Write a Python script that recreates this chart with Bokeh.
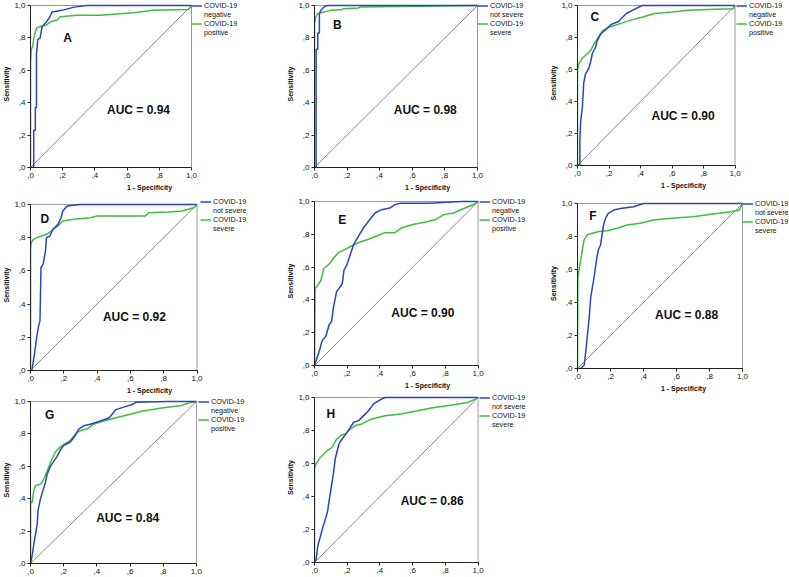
from bokeh.plotting import figure
from bokeh.layouts import row, column
from bokeh.models import Legend, LegendItem, Label, FixedTicker
from bokeh.embed import file_html
from bokeh.resources import INLINE

BLUE = "#2e42c4"
GREEN = "#3cbf3c"
FONT = "Liberation Sans"

ticks = [0, 0.2, 0.4, 0.6, 0.8, 1]
tick_labels = [",0", ",2", ",4", ",6", ",8", "1,0"]
diag = [0, 1]
box_lo, box_hi = [0], [1]

# ---------------- data (1 - specificity, sensitivity) ----------------
A_blue_x = [0, 0.02, 0.02, 0.03, 0.03, 0.037, 0.037, 0.045, 0.06, 0.072, 0.10, 0.12, 0.134, 0.196, 0.27, 0.35, 1.0]
A_blue_y = [0, 0.0, 0.23, 0.23, 0.37, 0.37, 0.70, 0.79, 0.80, 0.87, 0.90, 0.93, 0.96, 0.97, 0.99, 1.0, 1.0]
A_green_x = [0, 0.0, 0.005, 0.015, 0.02, 0.026, 0.037, 0.06, 0.10, 0.124, 0.165, 0.185, 0.29, 0.43, 0.64, 0.76, 0.98, 1.0]
A_green_y = [0, 0.65, 0.73, 0.75, 0.80, 0.82, 0.86, 0.87, 0.88, 0.90, 0.91, 0.93, 0.94, 0.94, 0.955, 0.97, 0.975, 1.0]

B_blue_x = [0, 0.01, 0.01, 0.02, 0.02, 0.03, 0.03, 0.04, 0.057, 0.08, 1.0]
B_blue_y = [0, 0.0, 0.73, 0.73, 0.83, 0.83, 0.95, 0.97, 0.99, 1.0, 1.0]
B_green_x = [0, 0.0, 0.008, 0.02, 0.057, 0.10, 0.17, 0.175, 0.27, 0.28, 1.0]
B_green_y = [0, 0.89, 0.93, 0.95, 0.96, 0.97, 0.975, 0.98, 0.985, 0.99, 1.0]

C_blue_x = [0, 0.015, 0.015, 0.02, 0.03, 0.04, 0.05, 0.073, 0.084, 0.094, 0.115, 0.125, 0.146, 0.18, 0.21, 0.26, 0.28, 0.31, 0.37, 0.41, 1.0]
C_blue_y = [0, 0.0, 0.15, 0.28, 0.35, 0.52, 0.57, 0.61, 0.65, 0.70, 0.74, 0.78, 0.82, 0.85, 0.88, 0.90, 0.92, 0.95, 0.98, 1.0, 1.0]
C_green_x = [0, 0.0, 0.01, 0.03, 0.063, 0.084, 0.105, 0.125, 0.157, 0.19, 0.22, 0.28, 0.345, 0.42, 0.49, 0.60, 0.70, 0.83, 0.99, 1.0]
C_green_y = [0, 0.60, 0.64, 0.67, 0.70, 0.72, 0.76, 0.79, 0.84, 0.86, 0.87, 0.89, 0.91, 0.93, 0.95, 0.96, 0.97, 0.975, 0.98, 1.0]

D_blue_x = [0, 0.008, 0.024, 0.037, 0.047, 0.057, 0.063, 0.076, 0.09, 0.096, 0.116, 0.135, 0.165, 0.184, 0.194, 0.22, 0.30, 1.0]
D_blue_y = [0, 0.0, 0.10, 0.20, 0.26, 0.30, 0.62, 0.64, 0.72, 0.80, 0.81, 0.85, 0.88, 0.92, 0.96, 0.99, 1.0, 1.0]
D_green_x = [0, 0.0, 0.004, 0.018, 0.037, 0.067, 0.096, 0.125, 0.165, 0.194, 0.26, 0.36, 0.40, 0.69, 0.71, 0.83, 0.91, 0.98, 1.0]
D_green_y = [0, 0.73, 0.77, 0.79, 0.80, 0.81, 0.82, 0.84, 0.87, 0.90, 0.91, 0.92, 0.93, 0.93, 0.95, 0.955, 0.96, 0.98, 1.0]

E_blue_x = [0, 0.01, 0.03, 0.046, 0.07, 0.09, 0.105, 0.115, 0.135, 0.15, 0.17, 0.18, 0.20, 0.22, 0.24, 0.27, 0.30, 0.33, 0.37, 0.41, 0.46, 0.49, 0.525, 0.70, 0.90, 1.0]
E_blue_y = [0, 0.03, 0.09, 0.15, 0.18, 0.25, 0.27, 0.35, 0.45, 0.47, 0.50, 0.58, 0.62, 0.68, 0.74, 0.79, 0.84, 0.88, 0.93, 0.95, 0.96, 0.98, 0.99, 0.99, 1.0, 1.0]
E_green_x = [0, 0.004, 0.02, 0.04, 0.055, 0.08, 0.10, 0.12, 0.15, 0.19, 0.23, 0.27, 0.33, 0.38, 0.43, 0.49, 0.535, 0.60, 0.68, 0.74, 0.79, 0.85, 0.92, 0.98, 1.0]
E_green_y = [0, 0.47, 0.49, 0.52, 0.59, 0.61, 0.63, 0.66, 0.69, 0.71, 0.73, 0.75, 0.77, 0.79, 0.81, 0.81, 0.84, 0.86, 0.875, 0.89, 0.92, 0.93, 0.96, 0.985, 1.0]

F_blue_x = [0, 0.02, 0.04, 0.05, 0.06, 0.07, 0.08, 0.09, 0.10, 0.117, 0.127, 0.14, 0.158, 0.17, 0.186, 0.22, 0.26, 0.34, 0.40, 1.0]
F_blue_y = [0, 0.0, 0.02, 0.10, 0.20, 0.30, 0.43, 0.49, 0.55, 0.67, 0.72, 0.75, 0.87, 0.91, 0.94, 0.96, 0.97, 0.98, 1.0, 1.0]
F_green_x = [0, 0.002, 0.01, 0.026, 0.04, 0.057, 0.09, 0.13, 0.18, 0.24, 0.30, 0.38, 0.46, 0.57, 0.70, 0.81, 0.93, 0.98, 1.0]
F_green_y = [0, 0.55, 0.60, 0.70, 0.78, 0.81, 0.82, 0.83, 0.835, 0.85, 0.87, 0.88, 0.90, 0.91, 0.92, 0.935, 0.95, 0.96, 1.0]

G_blue_x = [0, 0.01, 0.02, 0.03, 0.04, 0.046, 0.06, 0.075, 0.09, 0.10, 0.12, 0.14, 0.16, 0.18, 0.20, 0.24, 0.27, 0.29, 0.32, 0.36, 0.42, 0.475, 0.515, 0.575, 0.61, 0.635, 0.83, 1.0]
G_blue_y = [0, 0.05, 0.12, 0.18, 0.24, 0.33, 0.40, 0.45, 0.50, 0.55, 0.60, 0.63, 0.66, 0.70, 0.73, 0.75, 0.79, 0.83, 0.85, 0.86, 0.88, 0.90, 0.95, 0.97, 0.98, 0.995, 1.0, 1.0]
G_green_x = [0, 0.0, 0.01, 0.02, 0.03, 0.06, 0.08, 0.10, 0.123, 0.15, 0.18, 0.21, 0.24, 0.27, 0.30, 0.34, 0.38, 0.44, 0.515, 0.595, 0.67, 0.79, 0.91, 0.95, 1.0]
G_green_y = [0, 0.37, 0.38, 0.45, 0.48, 0.49, 0.52, 0.57, 0.63, 0.69, 0.72, 0.74, 0.76, 0.80, 0.82, 0.83, 0.86, 0.88, 0.90, 0.92, 0.94, 0.96, 0.975, 0.99, 1.0]

H_blue_x = [0, 0.01, 0.02, 0.034, 0.05, 0.066, 0.08, 0.09, 0.105, 0.117, 0.127, 0.14, 0.15, 0.17, 0.20, 0.22, 0.24, 0.27, 0.30, 0.33, 0.36, 0.39, 0.43, 1.0]
H_blue_y = [0, 0.02, 0.10, 0.15, 0.21, 0.26, 0.31, 0.38, 0.47, 0.55, 0.63, 0.68, 0.72, 0.75, 0.79, 0.82, 0.85, 0.86, 0.89, 0.92, 0.96, 0.98, 1.0, 1.0]
H_green_x = [0, 0.0, 0.01, 0.03, 0.05, 0.08, 0.11, 0.13, 0.16, 0.19, 0.22, 0.25, 0.29, 0.35, 0.43, 0.53, 0.63, 0.73, 0.81, 0.935, 0.985, 1.0]
H_green_y = [0, 0.57, 0.60, 0.63, 0.65, 0.68, 0.70, 0.74, 0.77, 0.78, 0.81, 0.83, 0.84, 0.87, 0.89, 0.90, 0.92, 0.94, 0.95, 0.97, 0.99, 1.0]

auc_labels = ["AUC = 0.94", "AUC = 0.98", "AUC = 0.90", "AUC = 0.92",
              "AUC = 0.90", "AUC = 0.88", "AUC = 0.84", "AUC = 0.86"]
panel_letters = ["A", "B", "C", "D", "E", "F", "G", "H"]
neg_pos = ("negative", "positive")
sev = ("not severe", "severe")

ITEM_H = 9


def panel(w, h, L, R, T, B, bx, by, gx, gy, letter, lpos, auc, apos, groups, xlabel=True):
    """L, R, T, B: edges of the unit box inside the figure, in pixels."""
    fw = R - L
    fh = B - T
    eyp = min(T, 5)
    p = figure(width=w, height=h,
               x_range=(0, (w - L) / fw), y_range=(0, 1 + eyp / fh),
               output_backend="svg", toolbar_location=None,
               min_border_left=L, min_border_right=0,
               min_border_top=T - eyp, min_border_bottom=h - B,
               background_fill_color="white", border_fill_color="white")
    p.grid.visible = False
    p.outline_line_color = None
    for ax in (p.xaxis[0], p.yaxis[0]):
        ax.bounds = (0, 1)
        ax.ticker = FixedTicker(ticks=ticks)
        ax.major_label_overrides = dict(zip(ticks, tick_labels))
        ax.axis_line_color = "#222222"
        ax.major_tick_line_color = "#222222"
        ax.major_tick_out = 3
        ax.major_tick_in = 0
        ax.minor_tick_line_color = None
        ax.major_label_text_font = FONT
        ax.major_label_text_font_size = "8px"
        ax.major_label_text_color = "#111111"
        ax.major_label_standoff = 2
        ax.axis_label_text_font = FONT
        ax.axis_label_text_font_size = "7px"
        ax.axis_label_text_font_style = "bold"
        ax.axis_label_text_color = "#111111"
    p.yaxis.axis_label = "Sensitivity"
    p.yaxis.axis_label_standoff = 1
    if xlabel:
        p.xaxis.axis_label = "1 - Specificity"
        p.xaxis.axis_label_standoff = 3
    # unit box (the chart frame of the original)
    p.quad(left=box_lo, right=box_hi, bottom=box_lo, top=box_hi,
           fill_alpha=0, line_color="#9a9a9a", line_width=1)
    p.line(diag, diag, line_color="#555555", line_width=0.7)
    rg = p.line(gx, gy, line_color=GREEN, line_width=1.5)
    rb = p.line(bx, by, line_color=BLUE, line_width=1.5)
    dummy = p.line(diag, diag, line_alpha=0)
    leg_h = 4 * ITEM_H
    leg = Legend(items=[LegendItem(label="COVID-19", renderers=[rb]),
                        LegendItem(label=groups[0], renderers=[dummy]),
                        LegendItem(label="COVID-19", renderers=[rg]),
                        LegendItem(label=groups[1], renderers=[dummy])],
                 location=(fw, fh - leg_h + ITEM_H / 2), orientation="vertical",
                 glyph_width=11, glyph_height=ITEM_H, label_height=ITEM_H,
                 spacing=0, padding=0, margin=0, label_standoff=2,
                 label_text_font=FONT, label_text_font_size="7.2px",
                 label_text_color="#111111",
                 background_fill_alpha=0, border_line_color=None)
    p.add_layout(leg)
    p.add_layout(Label(x=lpos[0], y=lpos[1], text=letter, text_font=FONT,
                       text_font_size="12px", text_font_style="bold",
                       text_align="center", text_baseline="middle", text_color="#111111"))
    p.add_layout(Label(x=apos[0], y=apos[1], text=auc, text_font=FONT,
                       text_font_size="12px", text_font_style="bold",
                       text_align="left", text_baseline="middle", text_color="#111111"))
    return p


# column 1 (width 268)
pA = panel(268, 193, 30, 191, 5, 167, A_blue_x, A_blue_y, A_green_x, A_green_y,
           panel_letters[0], (0.23, 0.80), auc_labels[0], (0.475, 0.355), neg_pos)
pD = panel(268, 203, 25, 195, 11, 180, D_blue_x, D_blue_y, D_green_x, D_green_y,
           panel_letters[3], (0.086, 0.91), auc_labels[3], (0.435, 0.32), sev)
pG = panel(268, 181, 27, 195, 5, 167, G_blue_x, G_blue_y, G_green_x, G_green_y,
           panel_letters[6], (0.115, 0.914), auc_labels[6], (0.396, 0.28), neg_pos, xlabel=False)

# column 2 (width 272)
pB = panel(272, 193, 46, 209, 5, 167, B_blue_x, B_blue_y, B_green_x, B_green_y,
           panel_letters[1], (0.14, 0.88), auc_labels[1], (0.486, 0.357), sev)
pE = panel(272, 198, 44, 209, 8, 172, E_blue_x, E_blue_y, E_green_x, E_green_y,
           panel_letters[4], (0.17, 0.885), auc_labels[4], (0.47, 0.32), neg_pos)
pH = panel(272, 186, 44, 209, 6, 171, H_blue_x, H_blue_y, H_green_x, H_green_y,
           panel_letters[7], (0.10, 0.90), auc_labels[7], (0.527, 0.37), sev, xlabel=False)

# column 3 (width 249)
pC = panel(249, 193, 35, 194, 5, 165, C_blue_x, C_blue_y, C_green_x, C_green_y,
           panel_letters[2], (0.11, 0.93), auc_labels[2], (0.47, 0.307), neg_pos)
pF = panel(249, 207, 37, 202, 10, 175, F_blue_x, F_blue_y, F_green_x, F_green_y,
           panel_letters[5], (0.093, 0.925), auc_labels[5], (0.47, 0.326), sev)

layout = row(column(pA, pD, pG), column(pB, pE, pH), column(pC, pF))

open("out.html", "w").write(file_html(layout, INLINE))
